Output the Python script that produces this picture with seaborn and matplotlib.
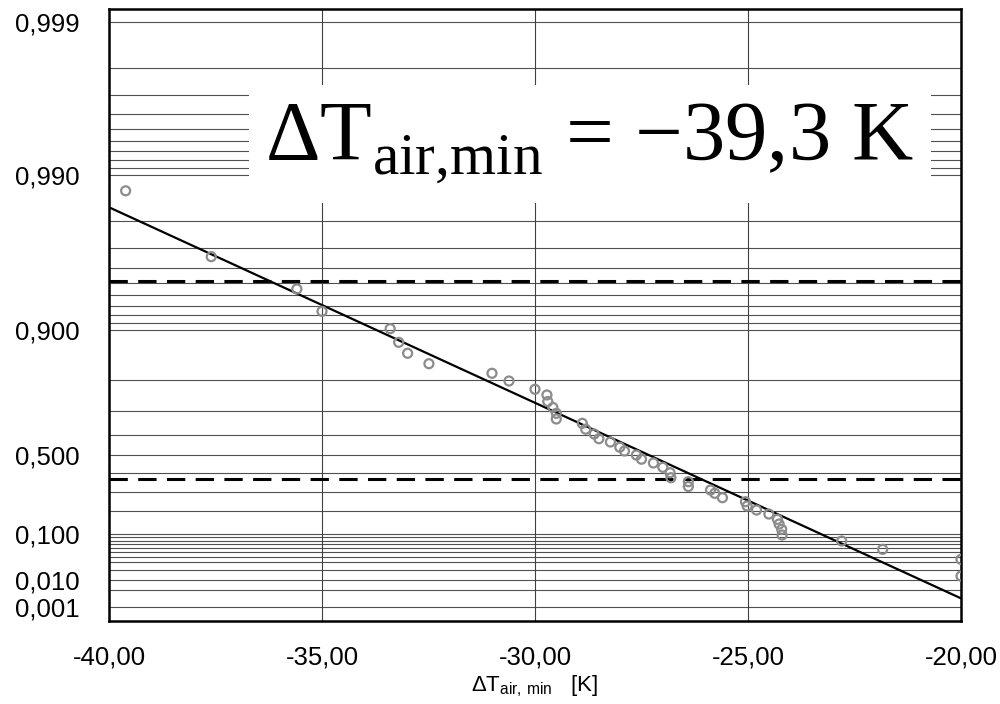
import numpy as np
import matplotlib
matplotlib.use('Agg')
import matplotlib.pyplot as plt
import seaborn as sns

# observed minimum air temperature differences [K] and their plotting positions
delta_t = [-39.61, -37.60, -35.59, -35.00, -33.40, -33.20, -32.99, -32.49,
           -31.01, -30.61, -30.00, -29.72, -29.70, -29.58, -29.50, -29.50,
           -28.89, -28.81, -28.61, -28.50, -28.23, -28.01, -27.90, -27.62,
           -27.50, -27.22, -27.00, -26.83, -26.81, -26.40, -26.40, -25.88,
           -25.78, -25.60, -25.06, -25.02, -24.80, -24.51, -24.31, -24.27,
           -24.21, -24.20, -22.80, -21.84, -20.00, -20.00]
prob = [0.9873, 0.966, 0.9452, 0.924, 0.9024, 0.8814, 0.8616, 0.840,
        0.8175, 0.7973, 0.7736, 0.756, 0.7343, 0.7132, 0.6914, 0.6689,
        0.651, 0.6255, 0.6037, 0.5817, 0.5658, 0.540, 0.5207, 0.500,
        0.4778, 0.4574, 0.434, 0.4042, 0.3765, 0.3542, 0.3276, 0.3083,
        0.2903, 0.2666, 0.2456, 0.2235, 0.2035, 0.1843, 0.160, 0.1398,
        0.1187, 0.098, 0.0786, 0.0559, 0.0349, 0.0133]

# fitted Gumbel line at the ends of the axis
fit_x = [-40.0, -20.0]
fit_p = [0.98374, 0.00236]

# dashed reference levels
ref_p = [0.951, 0.3679]

grid_p = [0.001, 0.005, 0.01, 0.02, 0.03, 0.04, 0.05, 0.06, 0.07, 0.08, 0.09,
          0.1, 0.2, 0.3, 0.4, 0.5, 0.6, 0.7, 0.8, 0.9,
          0.91, 0.92, 0.93, 0.94, 0.95, 0.96, 0.97, 0.98, 0.99,
          0.991, 0.992, 0.993, 0.994, 0.995, 0.996, 0.997, 0.998, 0.999]
vgrid_x = [-35, -30, -25]
ytick_p = [0.001, 0.010, 0.100, 0.500, 0.900, 0.990, 0.999]
xtick_x = [-40, -35, -30, -25, -20]


def gumbel(p):
    p = np.clip(np.asarray(p, dtype=float), 1e-12, 1 - 1e-12)
    return -np.log(-np.log(p))


def gumbel_inv(y):
    return np.exp(-np.exp(-np.asarray(y, dtype=float)))


sns.set_style('white')
plt.rcParams['font.family'] = ['Liberation Sans', 'DejaVu Sans']
plt.rcParams['text.color'] = 'black'
plt.rcParams['axes.labelcolor'] = 'black'
plt.rcParams['xtick.color'] = 'black'
plt.rcParams['ytick.color'] = 'black'

fig = plt.figure(figsize=(10, 7.04), dpi=100)
ax = fig.add_axes([0.109, 0.1183, 0.852, 0.8685])
ax.set_yscale('function', functions=(gumbel, gumbel_inv))

for p in grid_p:
    ax.axhline(p, color='#505050', lw=0.8, zorder=1)
for x in vgrid_x:
    ax.axvline(x, color='#404040', lw=0.8, zorder=1)
for p in ref_p:
    ax.axhline(p, color='black', lw=2.2, linestyle=(0, (6.0, 3.4)), zorder=2)

sns.lineplot(x=fit_x, y=fit_p, ax=ax, color='black', lw=1.6, zorder=3)
sns.scatterplot(x=delta_t, y=prob, ax=ax, marker='o', s=42, fc='none',
                ec='#8c8c8c', linewidth=1.6, zorder=4)

ax.set_xlim(-40, -20)
ax.set_ylim(0.000207, 0.999178)
ax.set_xticks(xtick_x)
ax.set_xticklabels([f'{v:.2f}'.replace('.', ',') for v in xtick_x])
ax.set_yticks(ytick_p)
ax.set_yticklabels([f'{v:.3f}'.replace('.', ',') for v in ytick_p])
ax.minorticks_off()
ax.tick_params(axis='y', length=0, pad=21, labelsize=18.5)
ax.tick_params(axis='x', length=0, pad=18, labelsize=18.5)

for s in ax.spines.values():
    s.set_linewidth(1.8)
    s.set_color('black')

ax.set_xlabel('ΔT$_{\\mathregular{air{,}\\ min}}$   [K]', fontsize=16, labelpad=3)
ax.set_ylabel('')

ax.text(0.5645, 0.7795, 'ΔT$_{\\mathregular{air{,}min}}$ = \u221239,3 K',
        transform=ax.transAxes, ha='center', va='center', fontsize=61,
        family='Liberation Serif', zorder=5,
        bbox=dict(facecolor='white', edgecolor='none', pad=12))

plt.savefig('out.png', dpi=100)
